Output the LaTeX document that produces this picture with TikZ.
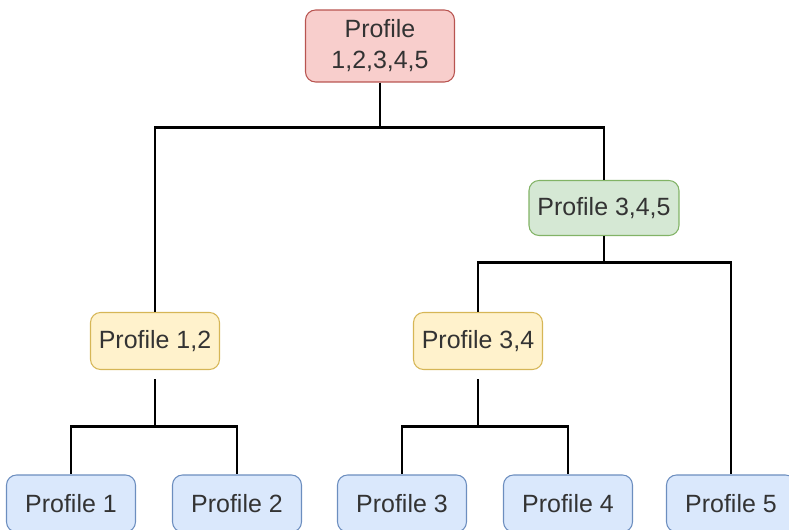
\documentclass[tikz,border=0pt]{standalone}
\usepackage{fontspec}
\setmainfont{Liberation Sans}
\usepackage{xcolor}

\definecolor{redfill}{HTML}{F8CECC}
\definecolor{redline}{HTML}{B85450}
\definecolor{greenfill}{HTML}{D5E8D4}
\definecolor{greenline}{HTML}{82B366}
\definecolor{yellowfill}{HTML}{FFF2CC}
\definecolor{yellowline}{HTML}{D6B656}
\definecolor{bluefill}{HTML}{DAE8FC}
\definecolor{blueline}{HTML}{6C8EBF}
\definecolor{textgray}{HTML}{333333}

\tikzset{
  box/.style={rounded corners=0.2cm, line width=0.6pt, minimum width=2.58cm,
    minimum height=1.14cm, inner sep=0pt, align=center, text=textgray,
    font=\fontsize{14.2}{17.6}\selectfont},
  leaf/.style={box, draw=blueline, fill=bluefill},
  link/.style={line width=1.7pt, black}
}

\begin{document}
\begin{tikzpicture}[x=0.02cm, y=-0.02cm]
  \useasboundingbox (0,0) rectangle (789,530);
  \node(all) [box, draw=redline, fill=redfill, minimum width=2.98cm,
    minimum height=1.44cm] at (380,46) {Profile\\1,2,3,4,5};
  \node(p345) [box, draw=greenline, fill=greenfill, minimum width=3cm,
    minimum height=1.1cm] at (604,208) {Profile 3,4,5};
  \node(p12) [box, draw=yellowline, fill=yellowfill] at (155,341) {Profile 1,2};
  \node(p34) [box, draw=yellowline, fill=yellowfill] at (478,341) {Profile 3,4};
  \node(p1) [leaf] at (71,503.5) {Profile 1};
  \node(p2) [leaf] at (237,503.5) {Profile 2};
  \node(p3) [leaf] at (402,503.5) {Profile 3};
  \node(p4) [leaf] at (568,503.5) {Profile 4};
  \node(p5) [leaf] at (731,503.5) {Profile 5};
  \draw[link] (all.south) -- ++(0,45) -| (p12.north);
  \draw[link] (all.south) -- ++(0,45) -| (p345.north);
  \draw[link] (p345.south) -- ++(0,26) -| (p34.north);
  \draw[link] (p345.south) -- ++(0,26) -| (p5.north);
  \draw[link, shorten <=0.18cm] (p12.south) -- ++(0,56) -| (p1.north);
  \draw[link, shorten <=0.18cm] (p12.south) -- ++(0,56) -| (p2.north);
  \draw[link, shorten <=0.18cm] (p34.south) -- ++(0,56) -| (p3.north);
  \draw[link, shorten <=0.18cm] (p34.south) -- ++(0,56) -| (p4.north);
\end{tikzpicture}
\end{document}
